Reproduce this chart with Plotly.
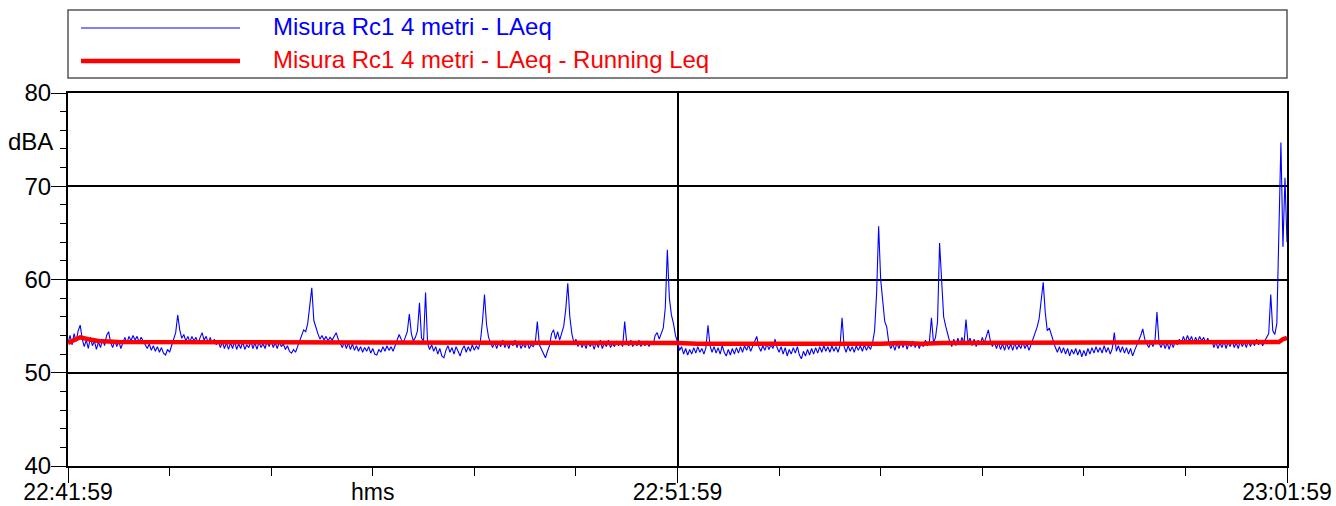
import plotly.graph_objects as go

# ---------------- data ----------------
SAMPLE_STEP_S = 2  # seconds between LAeq samples, starting at 22:41:59

laeq = [
    53.2, 54.0, 53.0, 54.2, 53.4, 54.5, 55.1, 53.6, 52.8, 53.5, 52.6, 53.8, 52.9, 53.4, 52.5, 53.3, 52.7, 53.6, 52.9, 54.0,
    54.4, 53.2, 52.7, 53.5, 52.8, 53.4, 52.6, 53.3, 53.8, 53.2, 53.9, 53.4, 54.0, 53.5, 53.9, 53.3, 53.8, 53.4, 53.0, 52.6,
    53.1, 52.4, 52.9, 52.3, 52.8, 52.2, 52.7, 52.1, 51.9, 52.5, 52.2, 52.9, 53.4, 54.3, 56.2, 54.6, 53.7, 54.1, 53.4, 53.9,
    53.3, 53.9, 53.4, 53.8, 53.2, 53.7, 54.3, 53.5, 53.9, 53.2, 53.8, 53.1, 53.6, 53.0, 53.4, 52.7, 53.3, 52.6, 53.2, 52.5,
    53.2, 52.6, 53.4, 52.5, 53.1, 52.6, 53.3, 52.5, 53.0, 52.7, 53.4, 52.6, 53.2, 52.5, 53.3, 52.7, 53.1, 52.6, 53.4, 52.8,
    53.5, 52.7, 53.2, 52.6, 53.3, 52.8, 53.1, 52.5, 52.9, 52.3, 52.1, 52.5, 52.2, 52.8, 53.4, 54.0, 54.6, 54.4, 55.3, 57.2,
    59.1, 55.6, 54.8, 54.2, 53.6, 54.0, 53.5, 53.9, 53.4, 53.8, 53.5, 53.9, 54.3, 53.6, 53.1, 52.7, 53.3, 52.6, 53.2, 52.5,
    53.1, 52.4, 52.9, 52.3, 52.8, 52.2, 52.7, 52.3, 52.8, 52.1, 52.6, 52.0, 51.9, 52.5, 52.2, 52.8, 52.3, 52.9, 52.4, 52.8,
    52.3, 52.9, 53.5, 54.1, 53.6, 53.2, 53.8, 54.4, 56.3, 54.2, 53.4, 53.8, 54.5, 57.5, 53.7, 53.4, 58.6, 53.1, 52.5, 53.0,
    52.3, 52.8, 52.0, 52.6, 51.8, 51.6, 52.4, 52.9, 52.2, 52.7, 52.0, 52.8, 52.3, 51.8, 52.5, 52.9, 52.2, 52.8, 52.3, 53.0,
    52.4, 52.9, 52.5, 53.4, 55.5, 58.4, 55.2, 53.8, 53.2, 52.7, 53.3, 52.6, 53.2, 52.8, 53.5, 52.7, 53.2, 52.6, 53.4, 52.9,
    53.5, 52.7, 53.3, 52.6, 53.1, 52.7, 53.3, 52.6, 53.0, 52.8, 53.2, 55.5, 53.0, 52.5, 52.2, 51.6, 52.3, 52.9, 54.2, 54.6,
    53.6, 54.4, 53.5, 54.2, 55.0, 56.8, 59.6, 56.0, 54.2, 53.2, 53.6, 52.8, 53.4, 52.7, 53.2, 52.6, 53.4, 52.8, 53.2, 52.5,
    53.3, 52.7, 53.5, 52.6, 53.2, 52.8, 53.5, 52.7, 53.1, 52.8, 53.4, 52.9, 53.3, 52.8, 55.5, 53.2, 52.9, 53.5, 52.8, 53.3,
    52.9, 53.5, 52.8, 53.3, 52.9, 53.4, 52.8, 53.3, 53.0, 54.0, 54.3, 53.6, 54.2, 54.8, 57.0, 63.2, 58.0, 56.2, 55.3, 54.0,
    53.3, 52.4, 52.8, 52.0, 52.6, 51.9, 52.5, 52.0, 52.7, 52.1, 52.8, 52.2, 52.6, 52.0, 52.7, 55.1, 52.9, 52.2, 52.8, 52.1,
    52.7, 52.0, 52.9, 52.2, 51.8, 52.5, 51.9, 52.6, 52.0, 52.7, 52.1, 52.8, 52.2, 52.9, 52.4, 53.0, 52.3, 52.9, 53.4, 53.9,
    52.8, 52.3, 52.9, 52.4, 53.1, 52.5, 53.0, 52.6, 53.6, 52.7, 52.2, 52.8, 52.0, 52.7, 51.8, 52.5, 52.0, 52.7, 52.1, 52.8,
    51.9, 51.5, 52.3, 51.8, 52.5, 51.9, 52.6, 52.0, 52.7, 52.1, 52.8, 52.2, 52.9, 52.3, 52.8, 52.2, 52.9, 52.3, 52.8, 52.2,
    52.9, 55.9, 52.8, 52.2, 52.9, 52.3, 52.8, 52.2, 52.9, 52.4, 52.9, 52.3, 53.0, 52.4, 52.9, 52.5, 53.2, 54.5, 58.5, 65.7,
    60.0, 57.8, 55.5, 54.9, 53.2, 52.6, 53.1, 52.4, 53.2, 52.6, 53.3, 52.7, 53.4, 52.5, 53.2, 52.8, 53.4, 52.7, 53.3, 52.6,
    53.2, 52.8, 53.5, 52.9, 53.4, 55.9, 53.2, 53.8, 55.5, 63.9, 59.5, 56.0, 55.0, 54.0, 53.3, 52.8, 53.6, 52.9, 53.7, 53.0,
    53.8, 53.1, 55.7, 53.2, 53.7, 52.9, 53.6, 52.8, 53.5, 53.0, 53.8, 53.2, 53.9, 54.6, 53.4, 52.8, 53.3, 52.6, 53.2, 52.5,
    53.1, 52.4, 53.2, 52.5, 53.1, 52.4, 53.2, 52.5, 53.0, 52.6, 53.3, 52.6, 53.1, 52.4, 53.0, 53.6, 54.2, 54.9, 55.8, 58.0,
    59.7, 56.5, 54.5, 54.8, 54.0, 53.3, 52.7, 52.2, 52.8, 52.1, 52.7, 52.0, 52.6, 51.8, 52.5, 52.0, 52.6, 51.9, 52.5, 51.7,
    52.4, 51.8, 52.6, 52.0, 52.7, 52.1, 52.8, 52.2, 52.7, 52.1, 52.9, 52.2, 52.7, 52.0, 52.6, 54.3, 52.3, 52.9, 52.2, 52.8,
    52.1, 52.7, 52.0, 52.6, 51.8, 52.4, 52.9, 53.4, 54.0, 54.7, 53.6, 53.1, 52.7, 53.3, 52.8, 53.4, 56.5, 53.2, 52.7, 53.3,
    52.6, 53.2, 52.5, 53.3, 52.7, 53.4, 53.0, 53.6, 53.1, 53.9, 53.3, 54.0, 53.4, 53.9, 53.2, 53.8, 53.3, 53.9, 53.4, 53.8,
    53.2, 53.7, 53.1, 53.5, 52.7, 53.3, 52.6, 53.2, 52.7, 53.4, 52.6, 53.3, 52.8, 53.5, 52.7, 53.2, 52.6, 53.4, 52.8, 53.3,
    52.7, 53.5, 52.8, 53.4, 52.9, 53.6, 53.0, 53.5, 52.9, 53.4, 53.8, 54.2, 58.4, 54.5, 54.1, 55.3, 65.0, 74.7, 63.5, 70.9,
    64.0,
]
laeq_t = [i * SAMPLE_STEP_S for i in range(len(laeq))]

running_t = [0, 6, 12, 20, 30, 50, 80, 100, 120, 140, 160, 180, 200, 220, 240,
             260, 280, 300, 320, 340, 360, 380, 400, 420, 440, 460, 480, 500,
             520, 540, 560, 580, 600, 620, 640, 660, 680, 700, 720, 740, 760,
             780, 800, 820, 840, 860, 880, 900, 920, 940, 960, 980, 1000, 1020,
             1040, 1060, 1080, 1100, 1120, 1140, 1160, 1180, 1192, 1196, 1200]
running_leq = [53.2, 53.5, 53.8, 53.6, 53.4, 53.3, 53.3, 53.3, 53.3, 53.3,
               53.3, 53.3, 53.3, 53.2, 53.3, 53.3, 53.3, 53.3, 53.2, 53.3,
               53.3, 53.2, 53.2, 53.2, 53.2, 53.2, 53.2, 53.2, 53.2, 53.2,
               53.2, 53.2, 53.2, 53.1, 53.1, 53.1, 53.1, 53.1, 53.0, 53.0,
               53.0, 53.0, 53.1, 53.2, 53.1, 53.2, 53.2, 53.2, 53.2, 53.2,
               53.3, 53.3, 53.2, 53.2, 53.2, 53.2, 53.2, 53.2, 53.2, 53.2,
               53.2, 53.2, 53.3, 53.6, 53.75]

x_tick_vals = [0, 600, 1200]
x_tick_text = ["22:41:59", "22:51:59", "23:01:59"]
y_tick_vals = [40, 50, 60, 70, 80]

series_names = ["Misura Rc1 4 metri - LAeq", "Misura Rc1 4 metri - LAeq - Running Leq"]
series_colors = ["#0000FF", "#FF0000"]

# ---------------- figure ----------------
W, H = 1336, 506
L, R, T, B = 68, 1287, 93, 466
FONT = "Liberation Sans, Arial, sans-serif"


def px(x):
    return (x - L) / (R - L)


def py(y):
    return (B - y) / (B - T)


fig = go.Figure()
fig.add_trace(go.Scatter(x=laeq_t, y=laeq, mode="lines", name=series_names[0],
                         line=dict(color=series_colors[0], width=1.1), showlegend=False))
fig.add_trace(go.Scatter(x=running_t, y=running_leq, mode="lines", name=series_names[1],
                         line=dict(color=series_colors[1], width=4.5), showlegend=False))

axis_common = dict(showline=True, linecolor="black", linewidth=2, mirror=True,
                   showgrid=True, gridcolor="black", gridwidth=2, zeroline=False,
                   automargin=False,
                   ticks="outside", tickcolor="black", tickwidth=1.3, ticklen=15)

fig.update_xaxes(range=[0, 1200], tickmode="array", tickvals=x_tick_vals, ticktext=x_tick_text,
                 ticklabelstandoff=-11, tickfont=dict(family=FONT, size=23, color="black"),
                 minor=dict(dtick=100, tick0=0, ticklen=8, tickcolor="black", tickwidth=1.3,
                            ticks="outside", showgrid=False),
                 **axis_common)
fig.update_yaxes(range=[40, 80], tickmode="array", tickvals=y_tick_vals,
                 ticklabelstandoff=-5, tickfont=dict(family=FONT, size=24, color="black"),
                 minor=dict(dtick=2, tick0=40, ticklen=6, tickcolor="black", tickwidth=1.3,
                            ticks="outside", showgrid=False),
                 **axis_common)

shapes = [
    dict(type="rect", xref="paper", yref="paper", x0=px(68), x1=px(1287), y0=py(78), y1=py(10),
         line=dict(color="#555555", width=1.5), fillcolor="white", layer="below"),
    dict(type="line", xref="paper", yref="paper", x0=px(81), x1=px(240), y0=py(28), y1=py(28),
         line=dict(color=series_colors[0], width=1)),
    dict(type="line", xref="paper", yref="paper", x0=px(81), x1=px(240), y0=py(61), y1=py(61),
         line=dict(color=series_colors[1], width=4.5)),
]

annotations = [
    dict(text=series_names[0], xref="paper", yref="paper", x=px(271), y=py(26),
         xanchor="left", yanchor="middle", showarrow=False,
         font=dict(family=FONT, size=24, color=series_colors[0])),
    dict(text=series_names[1], xref="paper", yref="paper", x=px(271), y=py(60),
         xanchor="left", yanchor="middle", showarrow=False,
         font=dict(family=FONT, size=24, color=series_colors[1])),
    dict(text="dBA", xref="paper", yref="y", x=0, y=74.8, xshift=-13,
         xanchor="right", yanchor="middle", showarrow=False,
         font=dict(family=FONT, size=24, color="black")),
    dict(text="hms", xref="x", yref="paper", x=300, y=0, yshift=-26,
         xanchor="center", yanchor="middle", showarrow=False,
         font=dict(family=FONT, size=23, color="black")),
]

fig.update_layout(width=W, height=H, autosize=False,
                  margin=dict(l=L, r=W - R, t=T, b=H - B, pad=0, autoexpand=False),
                  paper_bgcolor="white", plot_bgcolor="white", showlegend=False,
                  shapes=shapes, annotations=annotations,
                  font=dict(family=FONT, size=24, color="black"))

post = ("document.documentElement.style.margin='0';document.documentElement.style.padding='0';"
        "document.body.style.margin='0';document.body.style.padding='0';"
        "document.documentElement.style.overflow='hidden';document.body.style.overflow='hidden';")

fig.write_html("out.html", config={"displayModeBar": False}, post_script=post)
